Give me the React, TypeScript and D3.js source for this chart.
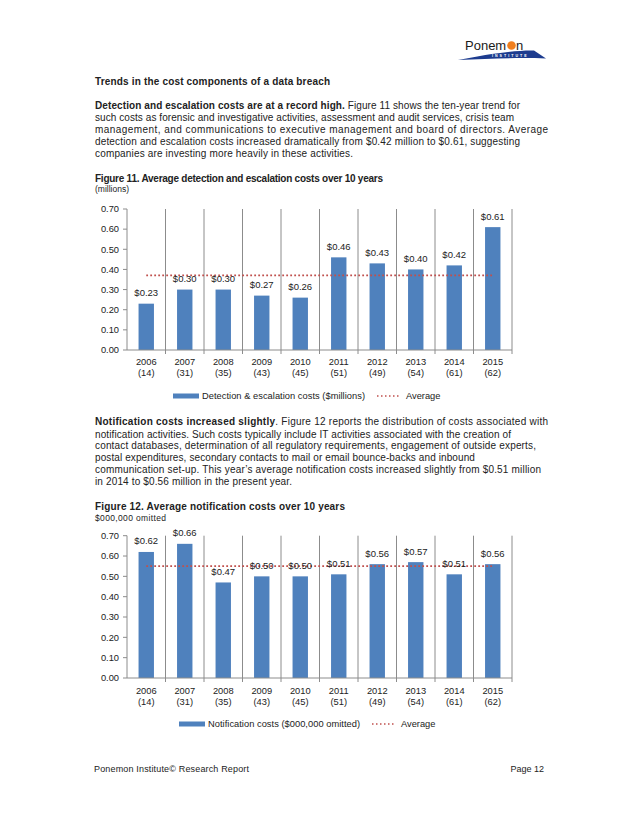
import * as React from "react";
import * as d3 from "d3";

// values
const years = ["2006", "2007", "2008", "2009", "2010", "2011", "2012", "2013", "2014", "2015"];
const sampleSizes = ["(14)", "(31)", "(35)", "(43)", "(45)", "(51)", "(49)", "(54)", "(61)", "(62)"];
const detectionCosts = [0.23, 0.30, 0.30, 0.27, 0.26, 0.46, 0.43, 0.40, 0.42, 0.61];
const notificationCosts = [0.62, 0.66, 0.47, 0.50, 0.50, 0.51, 0.56, 0.57, 0.51, 0.56];
const detectionAverage = 0.37;
const notificationAverage = 0.55;
const yTicks = [0, 0.1, 0.2, 0.3, 0.4, 0.5, 0.6, 0.7];

const para1 = [
  "such costs as forensic and investigative activities, assessment and audit services, crisis team",
  "management, and communications to executive management and board of directors.  Average",
  "detection and escalation costs increased dramatically from $0.42 million to $0.61, suggesting",
  "companies are investing more heavily in these activities.",
];
const para2 = [
  "notification activities.  Such costs typically include IT activities associated with the creation of",
  "contact databases, determination of all regulatory requirements, engagement of outside experts,",
  "postal expenditures, secondary contacts to mail or email bounce-backs and inbound",
  "communication set-up. This year\u2019s average notification costs increased slightly from $0.51 million",
  "in 2014 to $0.56 million in the present year.",
];
// measured line widths on the page (the PDF text runs a little wider than the local font)
const para1W = [419, 453, 425, 258];
const para2W = [416, 441, undefined, 446, 197];

const FONT = "'Liberation Sans', Arial, sans-serif";
const BLUE = "#4F81BD";
const RED = "#C0504D";
const GRID = "#8c8c8c";
const TXT = "#222";

const money = d3.format(".2f");
const tickFmt = d3.format(".2f");

function BarChart({ top, bottom, values, average, legendLabel, legendX, legendTextW, labelY, legendY }) {
  const left = 127;
  const right = 512;
  const x = d3.scaleBand().domain(years).range([left, right]);
  const y = d3.scaleLinear().domain([0, 0.7]).range([bottom, top]);
  const barW = x.bandwidth() * 0.4;
  const bounds = years.map((yr) => (x(yr) as number) + x.bandwidth());
  const cx = (yr) => (x(yr) as number) + x.bandwidth() / 2;

  return (
    <g fontFamily={FONT}>
      {bounds.map((b, i) => (
        <line key={"g" + i} x1={b} x2={b} y1={top} y2={bottom + 4} stroke={GRID} strokeWidth={1} />
      ))}
      {values.map((v, i) => (
        <rect key={"b" + i} x={cx(years[i]) - barW / 2} y={y(v)} width={barW} height={bottom - y(v)} fill={BLUE} />
      ))}
      <line x1={left} x2={left} y1={top} y2={bottom} stroke={GRID} />
      <line x1={left} x2={right} y1={bottom} y2={bottom} stroke={GRID} />
      {yTicks.map((t) => (
        <g key={"t" + t}>
          <line x1={left - 4} x2={left} y1={y(t)} y2={y(t)} stroke={GRID} />
          <text x={left - 8} y={y(t) + 3.3} fontSize={9.3} textAnchor="end" fill={TXT}>
            {tickFmt(t)}
          </text>
        </g>
      ))}
      <line
        x1={cx(years[0])}
        x2={cx(years[years.length - 1])}
        y1={y(average)}
        y2={y(average)}
        stroke={RED}
        strokeWidth={1.8}
        strokeDasharray="1.8 2.2"
      />
      {values.map((v, i) => (
        <text key={"l" + i} x={cx(years[i])} y={y(v) - 7.5} fontSize={9.5} textAnchor="middle" fill={TXT}>
          {"$" + money(v)}
        </text>
      ))}
      {years.map((yr, i) => (
        <g key={"c" + i}>
          <text x={cx(yr)} y={labelY} fontSize={9.3} textAnchor="middle" fill={TXT}>
            {yr}
          </text>
          <text x={cx(yr)} y={labelY + 11} fontSize={9.3} textAnchor="middle" fill={TXT}>
            {sampleSizes[i]}
          </text>
        </g>
      ))}
      <rect x={legendX} y={legendY - 5.5} width={26} height={5} fill={BLUE} />
      <text x={legendX + 29} y={legendY} fontSize={9.3} fill={TXT} textLength={legendTextW} lengthAdjust="spacing">
        {legendLabel}
      </text>
      <line
        x1={legendX + 29 + legendTextW + 12}
        x2={legendX + 29 + legendTextW + 36}
        y1={legendY - 3}
        y2={legendY - 3}
        stroke={RED}
        strokeWidth={1.5}
        strokeDasharray="1.5 2.5"
      />
      <text x={legendX + 29 + legendTextW + 41} y={legendY} fontSize={9.3} fill={TXT}>
        Average
      </text>
    </g>
  );
}

export default function App() {
  return (
    <svg
      width={638}
      height={826}
      viewBox="0 0 638 826"
      style={{ position: "absolute", left: 0, top: 0, background: "#fff" }}
    >
      <rect width={638} height={826} fill="#fff" />

      {/* logo */}
      <g fontFamily={FONT}>
        <path d="M458 60 C 488 54 516 50 534 50.5 L 546 58.5 C 520 57.5 490 58.5 458 60 Z" fill="#1d3c8f" />
        <text x={492} y={57.2} fontSize={3.6} fill="#fff" letterSpacing={2} fontWeight="bold">
          INSTITUTE
        </text>
        <text x={465} y={50} fontSize={13} fill="#1a1a1a">
          Ponem
        </text>
        <circle cx={511.5} cy={45.5} r={4.3} fill="#f07f1e" />
        <text x={516} y={50} fontSize={13} fill="#1a1a1a">
          n
        </text>
      </g>

      <g fontFamily={FONT} fill={TXT} fontSize={10}>
        <text x={95} y={85} fontWeight="bold" textLength={235} lengthAdjust="spacing">
          Trends in the cost components of a data breach
        </text>
        <text x={95} y={109} textLength={425} lengthAdjust="spacing">
          <tspan fontWeight="bold">Detection and escalation costs are at a record high.</tspan>
          <tspan> Figure 11 shows the ten-year trend for</tspan>
        </text>
        {para1.map((s, i) => (
          <text key={"p1" + i} x={95} y={121 + i * 12} textLength={para1W[i]} lengthAdjust="spacing">
            {s}
          </text>
        ))}
        <text x={95} y={181.5} fontWeight="bold" textLength={288} lengthAdjust="spacing">
          Figure 11. Average detection and escalation costs over 10 years
        </text>
        <text x={95} y={191.5} fontSize={8.5}>
          (millions)
        </text>

        <text x={95} y={425} textLength={453} lengthAdjust="spacing">
          <tspan fontWeight="bold">Notification costs increased slightly</tspan>
          <tspan>. Figure 12 reports the distribution of costs associated with</tspan>
        </text>
        {para2.map((s, i) => (
          <text
            key={"p2" + i}
            x={95}
            y={437.5 + i * 11.8}
            textLength={para2W[i]}
            lengthAdjust={para2W[i] ? "spacing" : undefined}
            letterSpacing={para2W[i] ? undefined : 0.1}
          >
            {s}
          </text>
        ))}
        <text x={95} y={509.5} fontWeight="bold" textLength={250} lengthAdjust="spacing">
          Figure 12. Average notification costs over 10 years
        </text>
        <text x={95} y={520.5} fontSize={8.5} textLength={71} lengthAdjust="spacing">
          $000,000 omitted
        </text>

        <text x={94} y={772} fontSize={9} textLength={155} lengthAdjust="spacing">
          Ponemon Institute© Research Report
        </text>
        <text x={544} y={772} fontSize={9} textAnchor="end">
          Page 12
        </text>
      </g>

      <BarChart
        top={209}
        bottom={350}
        values={detectionCosts}
        average={detectionAverage}
        legendLabel="Detection & escalation costs ($millions)"
        legendX={173}
        legendTextW={163}
        labelY={365}
        legendY={399}
      />
      <BarChart
        top={535.7}
        bottom={678}
        values={notificationCosts}
        average={notificationAverage}
        legendLabel="Notification costs ($000,000 omitted)"
        legendX={179}
        legendTextW={152}
        labelY={693.5}
        legendY={727}
      />
    </svg>
  );
}
